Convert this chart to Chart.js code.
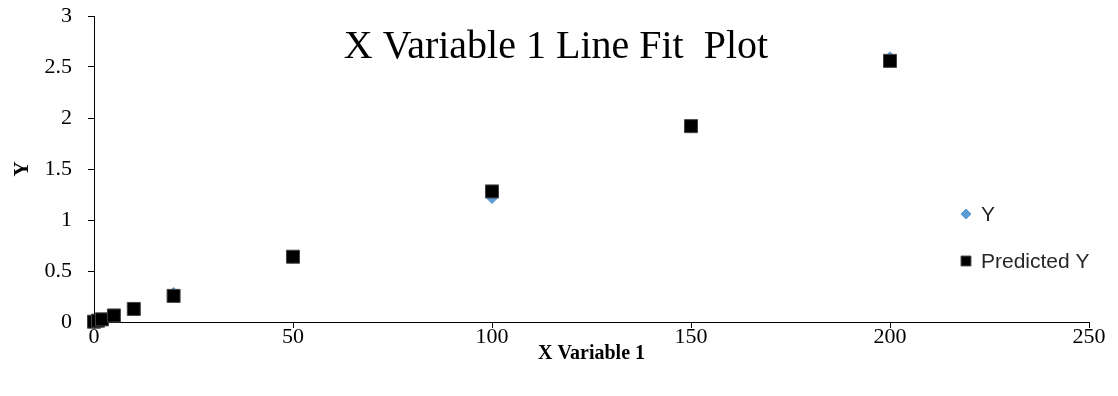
<!DOCTYPE html>
<html>
<head>
<meta charset="utf-8">
<script src="https://cdn.jsdelivr.net/npm/chart.js@4/dist/chart.umd.min.js"></script>
<style>
  html, body { margin: 0; padding: 0; background: #fff; }
  #wrap { width: 1118px; height: 396px; }
</style>
</head>
<body>
<div id="wrap"><canvas id="chart" width="1118" height="396"></canvas></div>
<script>
const xValues = [0, 1, 2, 5, 10, 20, 50, 100, 150, 200];
const yValues = [-0.02, 0.01, 0.03, 0.07, 0.135, 0.29, 0.62, 1.21, 1.9, 2.6];
const predictedY = [0.003, 0.013, 0.026, 0.064, 0.128, 0.256, 0.64, 1.28, 1.92, 2.56];
const seriesNames = ['Y', 'Predicted Y'];
const chartTitle = 'X Variable 1 Line Fit  Plot';
const xTitle = 'X Variable 1';
const yTitle = 'Y';

const serif = "'Liberation Serif', 'Times New Roman', serif";
const sans = "'Liberation Sans', Arial, sans-serif";

const toPoints = (ys) => xValues.map((x, i) => ({ x, y: ys[i] }));

// title and legend sit inside the plot area, like the Excel original
const overlay = {
  id: 'overlay',
  afterDraw(chart) {
    const { ctx } = chart;
    ctx.save();
    ctx.fillStyle = '#000';
    ctx.font = `40px ${serif}`;
    ctx.textAlign = 'center';
    ctx.textBaseline = 'middle';
    ctx.fillText(chartTitle, 556, 47);

    ctx.font = `21px ${sans}`;
    ctx.textAlign = 'left';
    const rows = [214, 261];
    chart.data.datasets.forEach((ds, i) => {
      ctx.fillStyle = ds.backgroundColor;
      ctx.strokeStyle = ds.borderColor;
      ctx.lineWidth = ds.borderWidth;
      Chart.helpers.drawPoint(ctx, {
        pointStyle: ds.pointStyle,
        radius: ds.legendRadius,
        borderWidth: ds.borderWidth
      }, 966, rows[i]);
      ctx.fillStyle = '#262626';
      ctx.fillText(ds.label, 981, rows[i] + 1);
    });
    ctx.restore();
  }
};

new Chart(document.getElementById('chart'), {
  type: 'scatter',
  data: {
    datasets: [
      {
        label: seriesNames[0],
        data: toPoints(yValues),
        pointStyle: 'rectRot',
        pointRadius: 5,
        legendRadius: 5,
        backgroundColor: '#5B9BD5',
        borderColor: '#5B9BD5',
        borderWidth: 1,
        clip: false,
        order: 1
      },
      {
        label: seriesNames[1],
        data: toPoints(predictedY),
        pointStyle: 'rect',
        pointRadius: 9.2,
        legendRadius: 7,
        backgroundColor: '#000',
        borderColor: '#444',
        borderWidth: 1,
        clip: false,
        order: 0
      }
    ]
  },
  options: {
    responsive: false,
    animation: false,
    devicePixelRatio: 1,
    layout: { padding: { left: 0, top: 16, right: 29, bottom: 0 } },
    plugins: {
      legend: { display: false },
      tooltip: { enabled: false }
    },
    scales: {
      x: {
        type: 'linear',
        min: 0,
        max: 250,
        afterFit(scale) { scale.height = 74; },
        ticks: { stepSize: 50, color: '#000', padding: -4, font: { family: serif, size: 22 } },
        grid: { display: true, drawOnChartArea: false, drawTicks: true, tickLength: 6, color: '#000' },
        border: { color: '#000', width: 1 },
        title: {
          display: true,
          text: xTitle,
          color: '#000',
          font: { family: serif, size: 20, weight: 'bold' },
          padding: { top: 0, bottom: 30 }
        }
      },
      y: {
        min: 0,
        max: 3,
        afterFit(scale) {
          scale.width = 94;
          scale.paddingTop = 0;
          scale.paddingBottom = 0;
        },
        ticks: {
          stepSize: 0.5,
          color: '#000',
          padding: 16,
          font: { family: serif, size: 22 },
          callback: (v) => String(v)
        },
        grid: { display: true, drawOnChartArea: false, drawTicks: true, tickLength: 6, color: '#000' },
        border: { color: '#000', width: 1 },
        title: {
          display: true,
          text: yTitle,
          color: '#000',
          font: { family: serif, size: 21, weight: 'bold' },
          padding: { top: 10, bottom: 0 }
        }
      }
    }
  },
  plugins: [overlay]
});
</script>
</body>
</html>
